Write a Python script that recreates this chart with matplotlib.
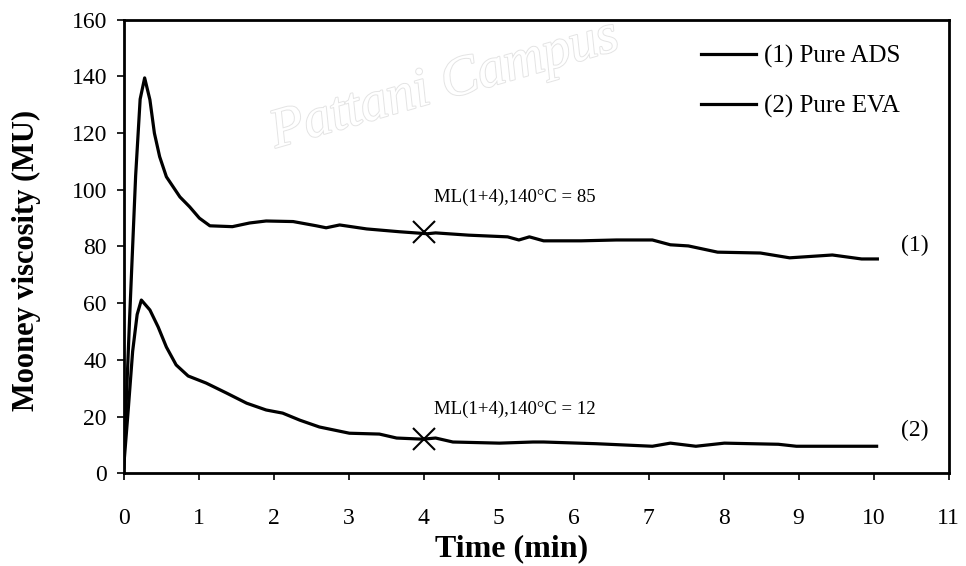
import matplotlib.pyplot as plt
import matplotlib.patheffects as pe

plt.rcParams['font.family'] = ['Liberation Serif', 'DejaVu Serif']

# (1) Pure ADS
t_ads = [0.0, 0.08, 0.16, 0.22, 0.28, 0.35, 0.41, 0.48, 0.57, 0.75, 0.88, 1.01, 1.15,
         1.45, 1.68, 1.9, 2.26, 2.57, 2.7, 2.88, 3.24, 3.68, 4.05, 4.16, 4.6, 5.12,
         5.27, 5.41, 5.6, 6.1, 6.57, 7.05, 7.29, 7.53, 7.92, 8.49, 8.88, 9.45, 9.84, 10.05]
mu_ads = [2, 55, 105, 132, 139.5, 131.8, 120, 111.7, 104.6, 97.5, 94, 90, 87.3,
          87, 88.3, 89, 88.8, 87.3, 86.6, 87.6, 86.2, 85.2, 84.5, 84.8, 84, 83.4,
          82.3, 83.4, 82, 82, 82.3, 82.3, 80.6, 80.2, 78, 77.7, 76, 77, 75.6, 75.6]

# (2) Pure EVA
t_eva = [0.0, 0.06, 0.12, 0.18, 0.236, 0.35, 0.46, 0.57, 0.7, 0.86, 1.1, 1.37, 1.64,
         1.9, 2.12, 2.35, 2.61, 3.01, 3.41, 3.64, 3.99, 4.16, 4.39, 5.01, 5.46, 5.6,
         6.3, 7.05, 7.29, 7.63, 8.01, 8.73, 8.97, 10.04]
mu_eva = [2, 22, 43, 56, 61.1, 57.6, 51.6, 44.5, 38.2, 34.3, 31.8, 28.3, 24.7,
          22.3, 21.2, 18.7, 16.3, 14.1, 13.8, 12.4, 12, 12.4, 11, 10.6, 11, 11,
          10.4, 9.5, 10.6, 9.5, 10.6, 10.2, 9.5, 9.5]

ml_time = 4
ml_values = [85, 12]

fig = plt.figure(figsize=(9.66, 5.66), dpi=100)
ax = fig.add_axes([0.128, 0.164, 0.854, 0.801])

# faint watermark
fig.text(0.46, 0.85, 'Pattani Campus', fontsize=40, style='italic', rotation=16,
         ha='center', va='center', color='white', zorder=0,
         path_effects=[pe.withStroke(linewidth=1.4, foreground='#e4e4e4')])
ax.patch.set_alpha(0)

ax.plot(t_ads, mu_ads, color='black', lw=2.3, label='(1) Pure ADS')
ax.plot(t_eva, mu_eva, color='black', lw=2.3, label='(2) Pure EVA')

for v, off in zip(ml_values, [12.5, 10.5]):
    ax.plot(ml_time, v, marker='x', color='black', ms=16, mew=1.5)
    ax.text(ml_time + 0.14, v + off, 'ML(1+4),140°C = %d' % v, fontsize=13.5,
            ha='left', va='center')

ax.text(10.55, 80.5, '(1)', fontsize=17, ha='center', va='center')
ax.text(10.55, 15.2, '(2)', fontsize=17, ha='center', va='center')

ax.set_xlim(0, 11)
ax.set_ylim(0, 160)
ax.set_xticks(range(0, 12))
ax.set_yticks(range(0, 161, 20))
ax.tick_params(direction='out', length=5, width=1.2, labelsize=17)
ax.tick_params(axis='x', pad=20)
ax.tick_params(axis='y', pad=7)
for s in ax.spines.values():
    s.set_linewidth(2)

ax.set_xlabel('Time (min)', fontsize=23, fontweight='bold')
ax.xaxis.set_label_coords(0.47, -0.135)
ax.set_ylabel('Mooney viscosity (MU)', fontsize=22, fontweight='bold')
ax.yaxis.set_label_coords(-0.1, 0.47)

ax.legend(loc='upper left', bbox_to_anchor=(0.726, 0.92), bbox_transform=fig.transFigure,
          frameon=False, fontsize=18, handlelength=2.2, handletextpad=0.3,
          labelspacing=1.07, borderpad=0, borderaxespad=0)

fig.savefig('out.png', dpi=100)
